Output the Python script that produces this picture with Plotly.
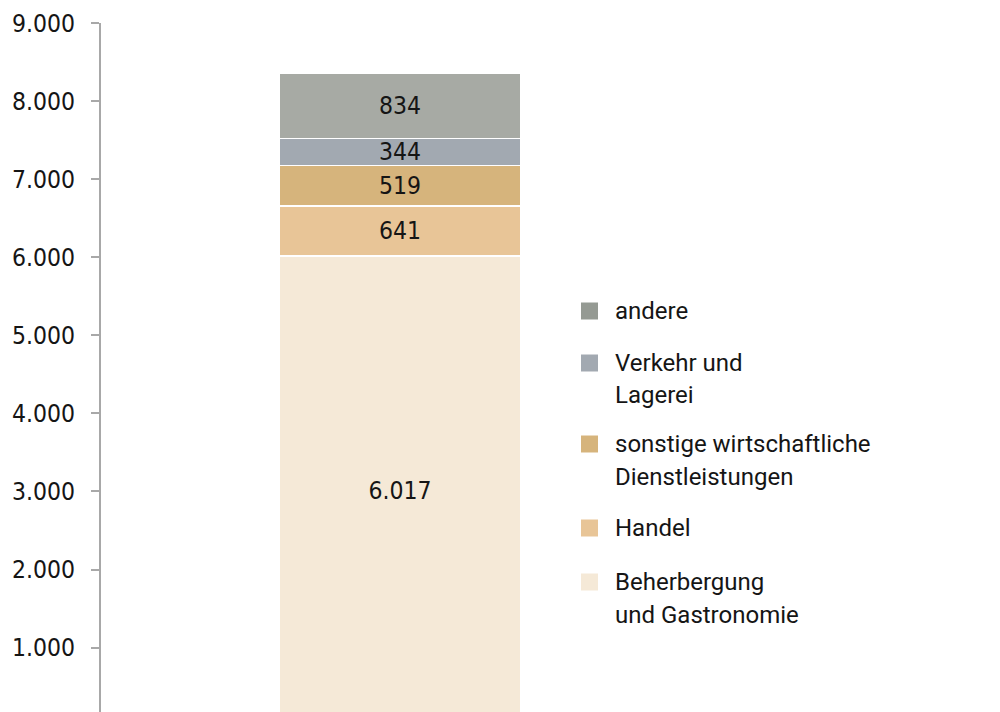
import plotly.graph_objects as go

# stacked segments, bottom to top
sectors = [
    "Beherbergung und Gastronomie",
    "Handel",
    "sonstige wirtschaftliche Dienstleistungen",
    "Verkehr und Lagerei",
    "andere",
]
values = [6017, 641, 519, 344, 834]
colors = ["#f5e9d7", "#e8c597", "#d6b47c", "#a2a9b1", "#a7aaa4"]

# legend, top to bottom
legend_lines = [
    ["andere"],
    ["Verkehr und", "Lagerei"],
    ["sonstige wirtschaftliche", "Dienstleistungen"],
    ["Handel"],
    ["Beherbergung", "und Gastronomie"],
]
legend_colors = ["#959a93", "#a2a9b1", "#d6b47c", "#e8c597", "#f5e9d7"]

tick_vals = [1000, 2000, 3000, 4000, 5000, 6000, 7000, 8000, 9000]

W, H = 1000, 712
L, R, T, B = 101, 301, 23, 0
PW, PH = W - L - R, H - T - B


def px_x(px):
    return (px - L) / PW


def px_y(py):
    return (H - B - py) / PH


INK = "#151515"
NUM_FONT = dict(family="Noto Sans Condensed, DejaVu Sans Condensed, Roboto, sans-serif",
                size=24.5, color=INK)
TXT_FONT = "Roboto, sans-serif"

fig = go.Figure()
for name, v, c in zip(sectors, values, colors):
    fig.add_trace(
        go.Bar(
            x=[0], y=[v], name=name, width=0.405,
            marker=dict(color=c, line=dict(color="white", width=1.5)),
            texttemplate="%{y:,.0f}", textposition="inside",
            insidetextanchor="middle", constraintext="none",
            textfont=NUM_FONT,
            showlegend=False,
        )
    )

# hand-drawn legend for bigger swatches
legend_top_px = [311, 363, 444, 528, 582]
shapes, annotations = [], []
for lines, c, y0 in zip(legend_lines, legend_colors, legend_top_px):
    shapes.append(dict(
        type="rect", xref="paper", yref="paper",
        x0=px_x(581), x1=px_x(598), y0=px_y(y0 + 8.5), y1=px_y(y0 - 8.5),
        fillcolor=c, line=dict(width=0),
    ))
    for i, txt in enumerate(lines):
        annotations.append(dict(
            xref="paper", yref="paper", x=px_x(613), y=px_y(y0 + i * 32.5),
            xanchor="left", yanchor="middle", text=txt, showarrow=False,
            font=dict(family=TXT_FONT, size=24, color=INK),
        ))

fig.update_layout(
    width=W, height=H,
    margin=dict(l=L, r=R, t=T, b=B, autoexpand=False),
    barmode="stack",
    separators=",.",
    plot_bgcolor="white",
    paper_bgcolor="white",
    showlegend=False,
    xaxis=dict(visible=False, range=[-0.5, 0.5]),
    yaxis=dict(
        range=[175, 9000],
        tickvals=tick_vals,
        tickformat=",d",
        separatethousands=True,
        showgrid=False, zeroline=False,
        showline=True, linecolor="#a8a8a8", linewidth=2,
        ticks="outside", ticklen=8, tickwidth=2, tickcolor="#a8a8a8",
        ticklabelstandoff=11,
        tickfont=NUM_FONT,
    ),
    shapes=shapes,
    annotations=annotations,
)

# drop the browser's default body margin so the figure sits at 0,0
fig.write_html(
    "out.html",
    config={"displayModeBar": False},
    post_script="document.body.style.margin='0';",
)
